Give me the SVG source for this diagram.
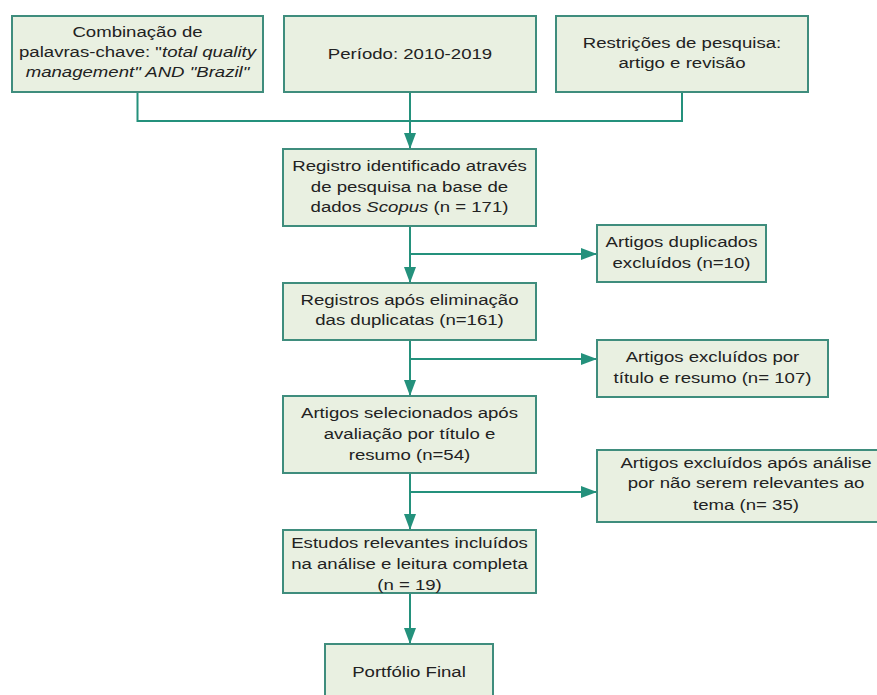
<svg xmlns="http://www.w3.org/2000/svg" width="877" height="695" viewBox="0 0 877 695">
<style>
.box{fill:#e9f0e1;stroke:#3f8d7d;stroke-width:2}
.c{fill:none;stroke:#24917c;stroke-width:2}
text{font-family:"Liberation Sans",Arial,sans-serif;font-size:15.5px;fill:#222;text-anchor:middle}
.i{font-style:italic}
</style>
<defs>
<marker id="ah" markerUnits="userSpaceOnUse" markerWidth="18" markerHeight="14" refX="16" refY="7" orient="auto">
<polygon points="0,1 16,7 0,13" fill="#24917c"/>
</marker>
</defs>
<rect width="877" height="695" fill="#ffffff"/>
<g id="connectors">
<path class="c" d="M137.5 92 V121 H682 V92"/>
<path class="c" d="M410 92 V149" marker-end="url(#ah)"/>
<path class="c" d="M410 226 V283" marker-end="url(#ah)"/>
<path class="c" d="M410 254 H597" marker-end="url(#ah)"/>
<path class="c" d="M410 340 V396" marker-end="url(#ah)"/>
<path class="c" d="M410 359 H597" marker-end="url(#ah)"/>
<path class="c" d="M410 473 V530" marker-end="url(#ah)"/>
<path class="c" d="M410 492 H597" marker-end="url(#ah)"/>
<path class="c" d="M410 593 V644" marker-end="url(#ah)"/>
</g>
<g id="n1">
<rect class="box" x="12" y="16" width="251" height="76"/>
<text transform="translate(137.5 0) scale(1.2 1)" y="37">Combinação de</text>
<text transform="translate(137.5 0) scale(1.2 1)" y="57">palavras-chave: "<tspan class="i">total quality</tspan></text>
<text transform="translate(137.5 0) scale(1.2 1)" y="77" class="i">management" AND "Brazil"</text>
</g>
<g id="n2">
<rect class="box" x="284" y="16" width="252" height="76"/>
<text transform="translate(410 0) scale(1.2 1)" y="59">Período: 2010-2019</text>
</g>
<g id="n3">
<rect class="box" x="556" y="16" width="252" height="76"/>
<text transform="translate(682 0) scale(1.2 1)" y="48">Restrições de pesquisa:</text>
<text transform="translate(682 0) scale(1.2 1)" y="68">artigo e revisão</text>
</g>
<g id="n4">
<rect class="box" x="283" y="149" width="253" height="77"/>
<text transform="translate(409.5 0) scale(1.2 1)" y="171">Registro identificado através</text>
<text transform="translate(409.5 0) scale(1.2 1)" y="192">de pesquisa na base de</text>
<text transform="translate(409.5 0) scale(1.2 1)" y="212">dados <tspan class="i">Scopus</tspan> (n = 171)</text>
</g>
<g id="s1">
<rect class="box" x="597" y="225" width="169" height="57"/>
<text transform="translate(681.5 0) scale(1.2 1)" y="247">Artigos duplicados</text>
<text transform="translate(681.5 0) scale(1.2 1)" y="268">excluídos (n=10)</text>
</g>
<g id="n5">
<rect class="box" x="283" y="283" width="253" height="57"/>
<text transform="translate(409.5 0) scale(1.2 1)" y="305">Registros após eliminação</text>
<text transform="translate(409.5 0) scale(1.2 1)" y="325">das duplicatas (n=161)</text>
</g>
<g id="s2">
<rect class="box" x="597" y="340" width="231" height="57"/>
<text transform="translate(712.5 0) scale(1.2 1)" y="362">Artigos excluídos por</text>
<text transform="translate(712.5 0) scale(1.2 1)" y="383">título e resumo (n= 107)</text>
</g>
<g id="n6">
<rect class="box" x="283" y="396" width="253" height="77"/>
<text transform="translate(409.5 0) scale(1.2 1)" y="418">Artigos selecionados após</text>
<text transform="translate(409.5 0) scale(1.2 1)" y="439">avaliação por título e</text>
<text transform="translate(409.5 0) scale(1.2 1)" y="460">resumo (n=54)</text>
</g>
<g id="s3">
<rect class="box" x="597" y="450" width="300" height="72"/>
<text transform="translate(746 0) scale(1.2 1)" y="468">Artigos excluídos após análise</text>
<text transform="translate(746 0) scale(1.2 1)" y="488">por não serem relevantes ao</text>
<text transform="translate(746 0) scale(1.2 1)" y="510">tema (n= 35)</text>
</g>
<g id="n7">
<rect class="box" x="283" y="530" width="253" height="63"/>
<text transform="translate(409.5 0) scale(1.2 1)" y="548">Estudos relevantes incluídos</text>
<text transform="translate(409.5 0) scale(1.2 1)" y="569">na análise e leitura completa</text>
<text transform="translate(409.5 0) scale(1.2 1)" y="590">(n = 19)</text>
</g>
<g id="n8">
<rect class="box" x="325" y="644" width="168" height="60"/>
<text transform="translate(409 0) scale(1.2 1)" y="677">Portfólio Final</text>
</g>
</svg>
